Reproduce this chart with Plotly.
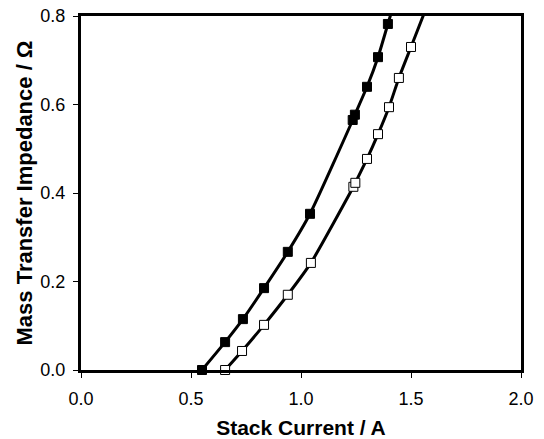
import numpy as np
import plotly.graph_objects as go

# Stack current (A) vs mass transfer impedance (ohm)
current_filled = [0.55, 0.655, 0.736, 0.832, 0.94, 1.041, 1.235, 1.245, 1.30, 1.35, 1.395]
impedance_filled = [0.0, 0.063, 0.115, 0.185, 0.267, 0.353, 0.565, 0.577, 0.64, 0.707, 0.782]

current_open = [0.655, 0.732, 0.832, 0.94, 1.045, 1.238, 1.247, 1.30, 1.35, 1.40, 1.445, 1.50]
impedance_open = [0.0, 0.043, 0.102, 0.17, 0.242, 0.414, 0.423, 0.477, 0.533, 0.594, 0.66, 0.73]

x_ticks = [0.0, 0.5, 1.0, 1.5, 2.0]
y_ticks = [0.0, 0.2, 0.4, 0.6, 0.8]


def extended(xs, ys, dx=0.08):
    """Continue the curve past the last point along the final slope (clipped by the axes)."""
    slope = (ys[-1] - ys[-2]) / (xs[-1] - xs[-2])
    return list(xs) + [xs[-1] + dx], list(ys) + [ys[-1] + slope * dx]


fig = go.Figure()

for xs, ys, fill in [(current_filled, impedance_filled, "black"),
                     (current_open, impedance_open, "white")]:
    lx, ly = extended(xs, ys)
    fig.add_trace(go.Scatter(x=lx, y=ly, mode="lines",
                             line=dict(color="black", width=3, shape="spline", smoothing=0.6),
                             hoverinfo="skip"))
    fig.add_trace(go.Scatter(x=xs, y=ys, mode="markers",
                             marker=dict(symbol="square", size=9, color=fill,
                                         line=dict(color="black", width=1)),
                             cliponaxis=False))

font = "Liberation Sans, Arial, sans-serif"
fig.update_layout(
    width=544, height=439,
    margin=dict(l=81, r=23, t=16, b=69),
    paper_bgcolor="white", plot_bgcolor="white",
    showlegend=False,
    font=dict(family=font, size=18, color="black"),
)
fig.update_xaxes(
    range=[0, 2.0], tickvals=x_ticks, ticktext=[f"{v:.1f}" for v in x_ticks],
    showgrid=False, zeroline=False, automargin=False,
    showline=True, linewidth=3, linecolor="black", mirror=True,
    ticks="outside", ticklen=5, tickwidth=1, tickcolor="black",
    tickfont=dict(size=18), ticklabelstandoff=5,
    title=dict(text="<b>Stack Current / A</b>", font=dict(size=21), standoff=14),
)
fig.update_yaxes(
    range=[0, 0.8], tickvals=y_ticks, ticktext=[f"{v:.1f}" for v in y_ticks],
    showgrid=False, zeroline=False, automargin=False,
    showline=True, linewidth=3, linecolor="black", mirror=True,
    ticks="outside", ticklen=5, tickwidth=1, tickcolor="black",
    tickfont=dict(size=18), ticklabelstandoff=4,
    title=dict(text="<b>Mass Transfer Impedance / Ω</b>", font=dict(size=22), standoff=2),
)

fig.write_html("out.html")
